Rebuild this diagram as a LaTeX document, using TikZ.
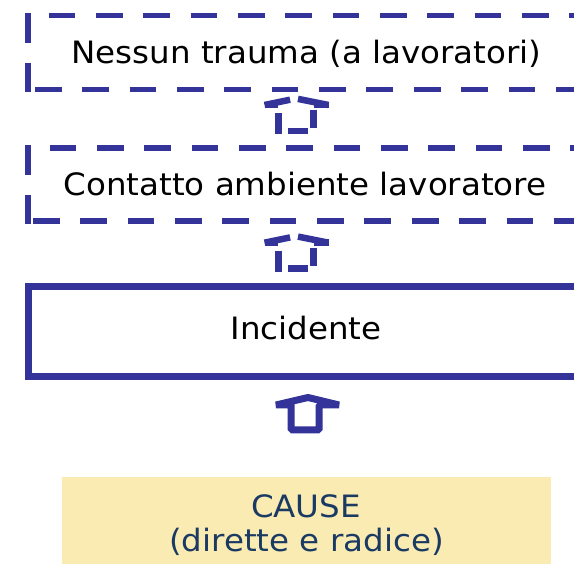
\documentclass[tikz,border=0pt]{standalone}
\usepackage{fontspec}
\setmainfont{DejaVu Sans}[FakeStretch=1.055]
\definecolor{boxblue}{HTML}{333399}
\definecolor{causefill}{HTML}{F9EBB1}
\definecolor{causetext}{HTML}{1B3A63}
\begin{document}
\begin{tikzpicture}[x=1pt,y=-1pt,
  dashedge/.style={draw=boxblue,line width=5.5pt,dash pattern=on 26.7pt off 20.65pt},
  sideedge/.style={draw=boxblue,line width=5.5pt,dash pattern=on 30pt off 20pt},
  solidedge/.style={draw=boxblue,line width=7pt,line join=miter},
  boxtext/.style={font=\fontsize{30.8}{34}\selectfont,anchor=base,inner sep=0pt},
  arrowline/.style={draw=boxblue,line width=6.5pt},
  solidarrow/.style={draw=boxblue,line width=7pt,line join=bevel},
  dashedarrow/.pic={
    \draw[arrowline] (-5.9,1.22) -- (-31.5,6.5);
    \draw[arrowline] (-31.5,6.5) -- (-18,6.5);
    \draw[arrowline] (2,0.41) -- (32.5,6.5);
    \draw[arrowline] (32.5,6.5) -- (18,6.5);
    \draw[arrowline] (-17.7,14.5) -- (-17.7,35.6);
    \draw[arrowline] (-8,32.5) -- (12,32.5);
    \draw[arrowline] (17.3,11.5) -- (17.3,29.5);
  }
]
\useasboundingbox (0,0) rectangle (574,564);
\clip (0,0) rectangle (574,564);

% Box 1
\node[boxtext] (t1) at (306.5,64) {Nessun trauma (a lavoratori)};
\draw[dashedge] (48.5,15.5) -- (600,15.5);
\draw[dashedge] (35,89.5) -- (600,89.5);
\draw[sideedge] (28,12.75) -- (28,92.25);

% Box 2
\node[boxtext] (t2) at (305,196) {Contatto ambiente lavoratore};
\draw[dashedge] (49.5,148) -- (600,148);
\draw[dashedge] (33,221) -- (600,221);
\draw[sideedge] (28,145.25) -- (28,223.75);

% Box 3
\node[boxtext] (t3) at (306,340) {Incidente};
\draw[solidedge] (600,287) -- (28.5,287) -- (28.5,376.5) -- (600,376.5);

% Cause box
\fill[causefill] (62,477) rectangle (551,570);
\node[boxtext,text=causetext] (c1) at (306,518) {CAUSE};
\node[boxtext,text=causetext] (c2) at (306.5,552) {(dirette e radice)};

% Arrows
\coordinate (a1) at (296,98.5);
\coordinate (a2) at (296,236.2);
\pic at (a1) {dashedarrow};
\pic at (a2) {dashedarrow};
\draw[solidarrow] (291,430) -- (291,405) -- (276,405) -- (308,397.5) -- (339,405) -- (319,405) -- (319,430) -- cycle;
\end{tikzpicture}
\end{document}
